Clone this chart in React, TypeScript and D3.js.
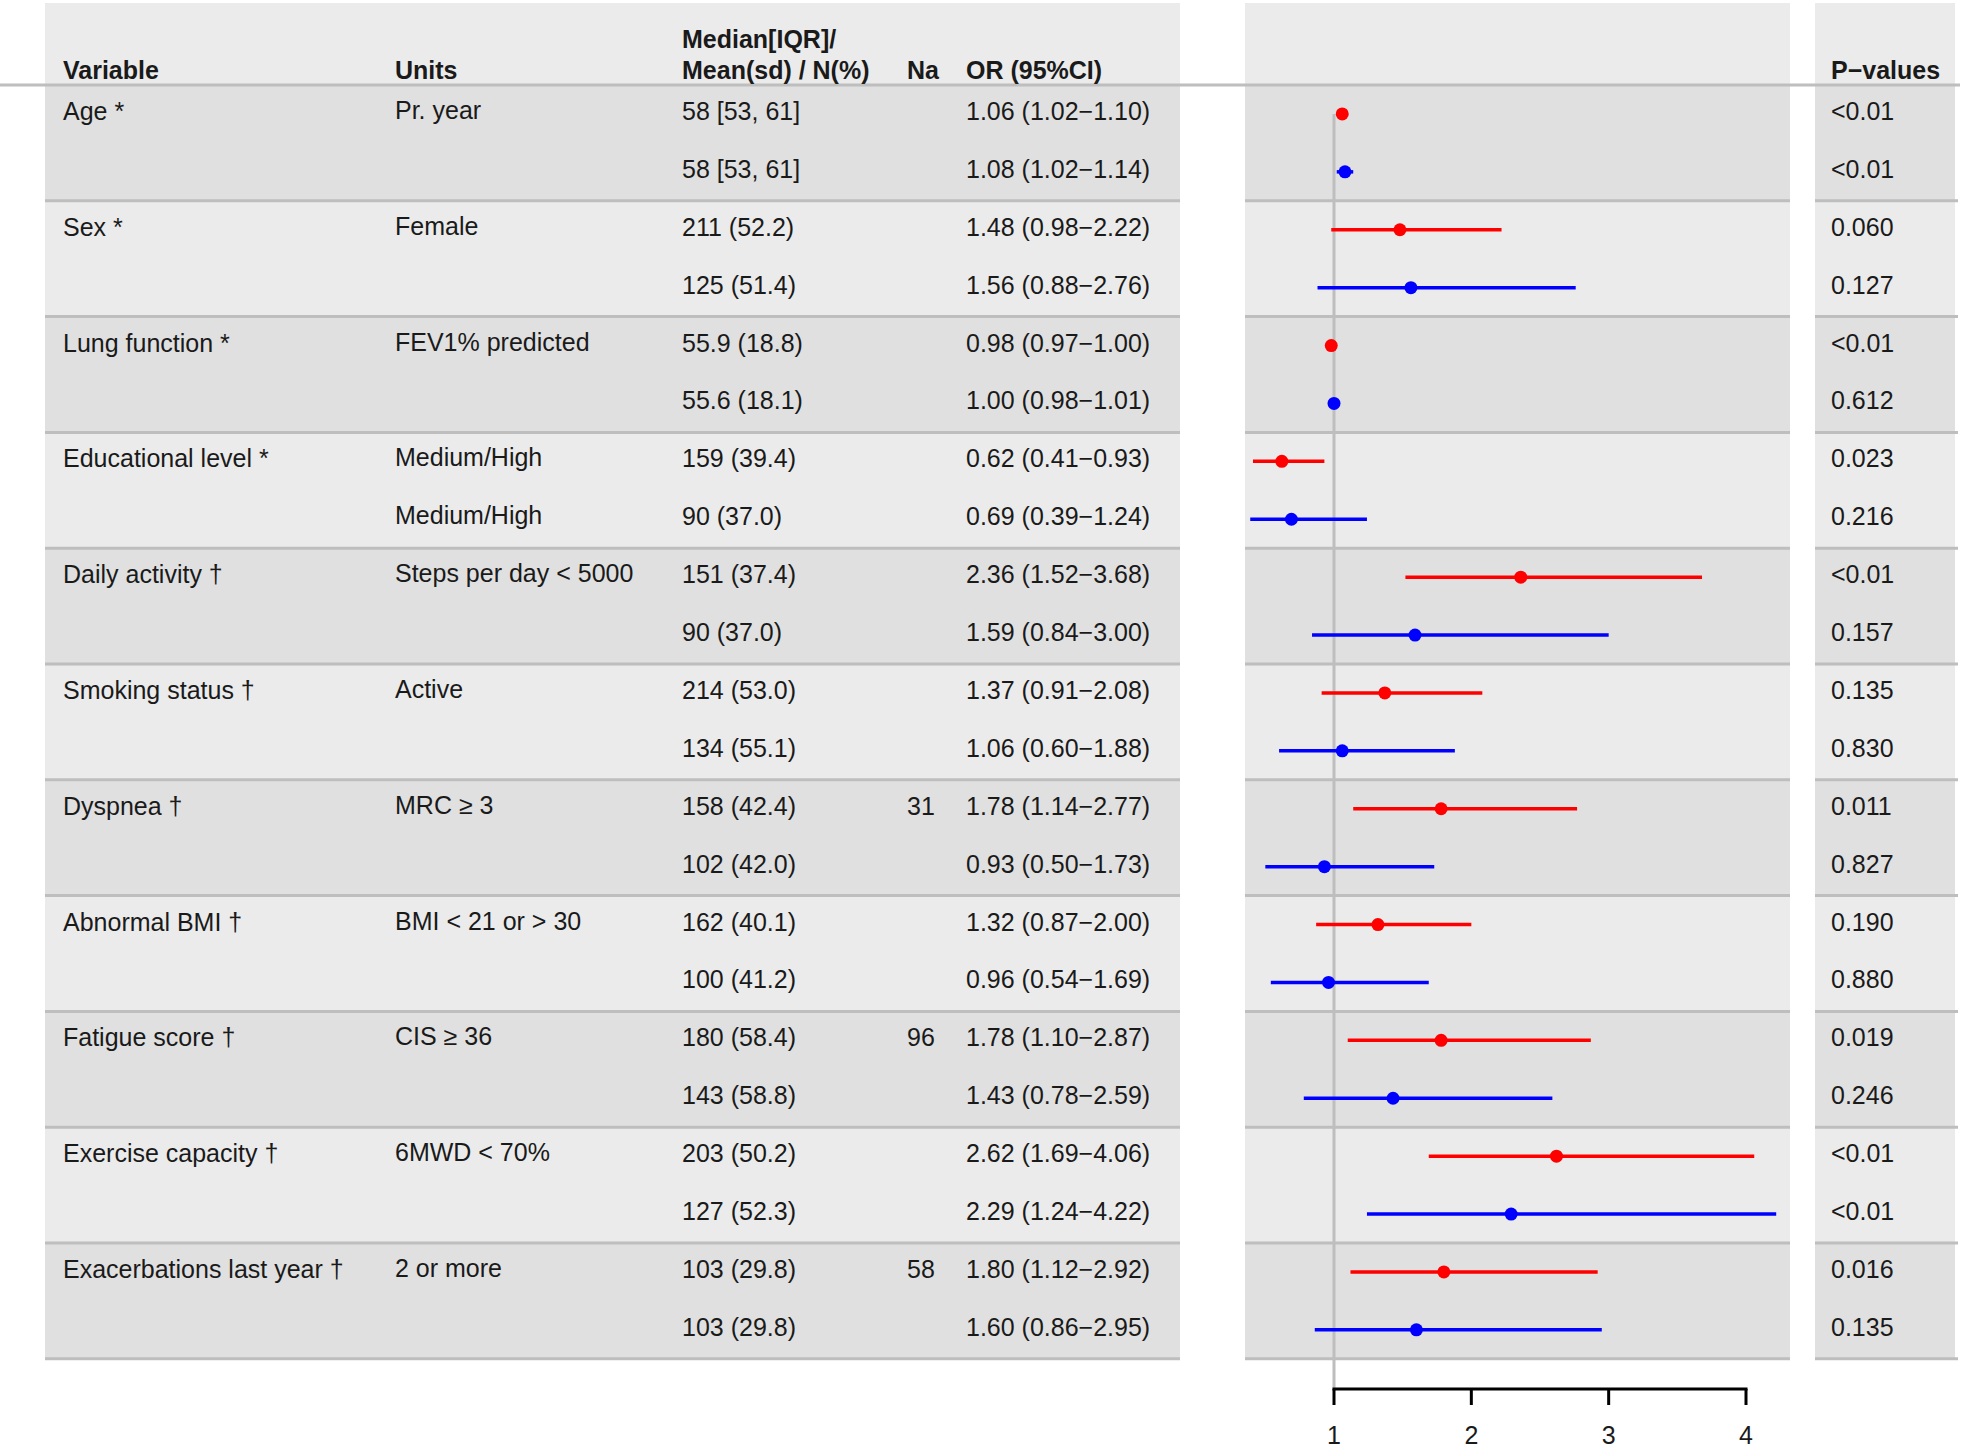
import React from "react";
import * as d3 from "d3";

const variables = ["Age *", "Sex *", "Lung function *", "Educational level *", "Daily activity †", "Smoking status †", "Dyspnea †", "Abnormal BMI †", "Fatigue score †", "Exercise capacity †", "Exacerbations last year †"];
const unitsRow1 = ["Pr. year", "Female", "FEV1% predicted", "Medium/High", "Steps per day < 5000", "Active", "MRC ≥ 3", "BMI < 21 or > 30", "CIS ≥ 36", "6MWD < 70%", "2 or more"];
const unitsRow2 = ["", "", "", "Medium/High", "", "", "", "", "", "", ""];
const descRow1 = ["58 [53, 61]", "211 (52.2)", "55.9 (18.8)", "159 (39.4)", "151 (37.4)", "214 (53.0)", "158 (42.4)", "162 (40.1)", "180 (58.4)", "203 (50.2)", "103 (29.8)"];
const descRow2 = ["58 [53, 61]", "125 (51.4)", "55.6 (18.1)", "90 (37.0)", "90 (37.0)", "134 (55.1)", "102 (42.0)", "100 (41.2)", "143 (58.8)", "127 (52.3)", "103 (29.8)"];
const naValues = ["", "", "", "", "", "", "31", "", "96", "", "58"];
// Red series (row 1)
const orRed = [1.06, 1.48, 0.98, 0.62, 2.36, 1.37, 1.78, 1.32, 1.78, 2.62, 1.80];
const loRed = [1.02, 0.98, 0.97, 0.41, 1.52, 0.91, 1.14, 0.87, 1.10, 1.69, 1.12];
const hiRed = [1.10, 2.22, 1.00, 0.93, 3.68, 2.08, 2.77, 2.00, 2.87, 4.06, 2.92];
// Blue series (row 2)
const orBlue = [1.08, 1.56, 1.00, 0.69, 1.59, 1.06, 0.93, 0.96, 1.43, 2.29, 1.60];
const loBlue = [1.02, 0.88, 0.98, 0.39, 0.84, 0.60, 0.50, 0.54, 0.78, 1.24, 0.86];
const hiBlue = [1.14, 2.76, 1.01, 1.24, 3.00, 1.88, 1.73, 1.69, 2.59, 4.22, 2.95];
const pRed = ["<0.01", "0.060", "<0.01", "0.023", "<0.01", "0.135", "0.011", "0.190", "0.019", "<0.01", "0.016"];
const pBlue = ["<0.01", "0.127", "0.612", "0.216", "0.157", "0.830", "0.827", "0.880", "0.246", "<0.01", "0.135"];
const xTicks = [1, 2, 3, 4];

const fmt = (v: number) => v.toFixed(2);

export default function App() {
  const W = 1968, H = 1448;
  const font = "'Liberation Sans', Arial, Helvetica, sans-serif";
  const fs = 25;
  const headerY = 85;
  const panelTop = 3;
  const n = variables.length;
  const groupH = 115.8;
  const bottom = headerY + n * groupH;
  const yBand = d3.scaleLinear().domain([0, n]).range([headerY, bottom]);
  const x = d3.scaleLinear().domain([1, 4]).range([1334, 1746]);

  const panels = [
    { x0: 45, x1: 1180 },
    { x0: 1245, x1: 1790 },
    { x0: 1815, x1: 1955 },
  ];
  const light = "#ebebeb";
  const dark = "#e0e0e0";
  const lineCol = "#bebebe";

  const cols = { variable: 63, units: 395, desc: 682, na: 907, or: 966, p: 1831 };
  const textOff = -3;
  const row1 = (i: number) => yBand(i) + groupH * 0.25;
  const row2 = (i: number) => yBand(i) + groupH * 0.75;
  const axisY = 1389;

  return (
    <svg width={W} height={H} style={{ position: "absolute", left: 0, top: 0, background: "#fff" }} fontFamily={font}>
      {panels.map((p, pi) => (
        <g key={pi}>
          <rect x={p.x0} y={panelTop} width={p.x1 - p.x0} height={headerY - panelTop} fill={light} />
          {variables.map((_, i) => (
            <rect key={i} x={p.x0} y={yBand(i)} width={p.x1 - p.x0} height={groupH} fill={i % 2 === 0 ? dark : light} />
          ))}
          {variables.map((_, i) => (
            <line key={"s" + i} x1={p.x0} x2={p.x1 + (pi === 2 ? 3 : 0)} y1={yBand(i + 1)} y2={yBand(i + 1)} stroke={lineCol} strokeWidth={3} />
          ))}
        </g>
      ))}
      <line x1={0} x2={1960} y1={headerY} y2={headerY} stroke={lineCol} strokeWidth={3} />

      {/* headers */}
      <g fontWeight="bold" fontSize={fs} fill="#1a1a1a">
        <text x={cols.variable} y={70} dominantBaseline="central">Variable</text>
        <text x={cols.units} y={70} dominantBaseline="central">Units</text>
        <text x={cols.desc} y={39} dominantBaseline="central">Median[IQR]/</text>
        <text x={cols.desc} y={70} dominantBaseline="central">Mean(sd) / N(%)</text>
        <text x={cols.na} y={70} dominantBaseline="central">Na</text>
        <text x={cols.or} y={70} dominantBaseline="central">OR (95%CI)</text>
        <text x={cols.p} y={70} dominantBaseline="central">P−values</text>
      </g>

      {/* table body */}
      <g fontSize={fs} fill="#1a1a1a">
        {variables.map((v, i) => (
          <g key={i}>
            <text x={cols.variable} y={row1(i) + textOff} dominantBaseline="central">{v}</text>
            <text x={cols.units} y={row1(i) + textOff - 1} dominantBaseline="central">{unitsRow1[i]}</text>
            <text x={cols.units} y={row2(i) + textOff - 1} dominantBaseline="central">{unitsRow2[i]}</text>
            <text x={cols.desc} y={row1(i) + textOff} dominantBaseline="central">{descRow1[i]}</text>
            <text x={cols.desc} y={row2(i) + textOff} dominantBaseline="central">{descRow2[i]}</text>
            <text x={cols.na} y={row1(i) + textOff} dominantBaseline="central">{naValues[i]}</text>
            <text x={cols.or} y={row1(i) + textOff} dominantBaseline="central">{`${fmt(orRed[i])} (${fmt(loRed[i])}−${fmt(hiRed[i])})`}</text>
            <text x={cols.or} y={row2(i) + textOff} dominantBaseline="central">{`${fmt(orBlue[i])} (${fmt(loBlue[i])}−${fmt(hiBlue[i])})`}</text>
            <text x={cols.p} y={row1(i) + textOff} dominantBaseline="central">{pRed[i]}</text>
            <text x={cols.p} y={row2(i) + textOff} dominantBaseline="central">{pBlue[i]}</text>
          </g>
        ))}
      </g>

      {/* forest */}
      <line x1={x(1)} x2={x(1)} y1={row1(0)} y2={axisY} stroke={lineCol} strokeWidth={3} />
      {variables.map((_, i) => (
        <g key={"f" + i}>
          <line x1={x(loRed[i])} x2={x(hiRed[i])} y1={row1(i)} y2={row1(i)} stroke="#ff0000" strokeWidth={3.5} />
          <circle cx={x(orRed[i])} cy={row1(i)} r={6.5} fill="#ff0000" />
          <line x1={x(loBlue[i])} x2={x(hiBlue[i])} y1={row2(i)} y2={row2(i)} stroke="#0000ff" strokeWidth={3.5} />
          <circle cx={x(orBlue[i])} cy={row2(i)} r={6.5} fill="#0000ff" />
        </g>
      ))}

      {/* axis */}
      <line x1={x(1) - 1.5} x2={x(4) + 1.5} y1={axisY} y2={axisY} stroke="#000" strokeWidth={3} />
      {xTicks.map((t) => (
        <g key={t}>
          <line x1={x(t)} x2={x(t)} y1={axisY} y2={axisY + 16} stroke="#000" strokeWidth={3} />
          <text x={x(t)} y={1435} textAnchor="middle" dominantBaseline="central" fontSize={25} fill="#1a1a1a">{t}</text>
        </g>
      ))}
    </svg>
  );
}
